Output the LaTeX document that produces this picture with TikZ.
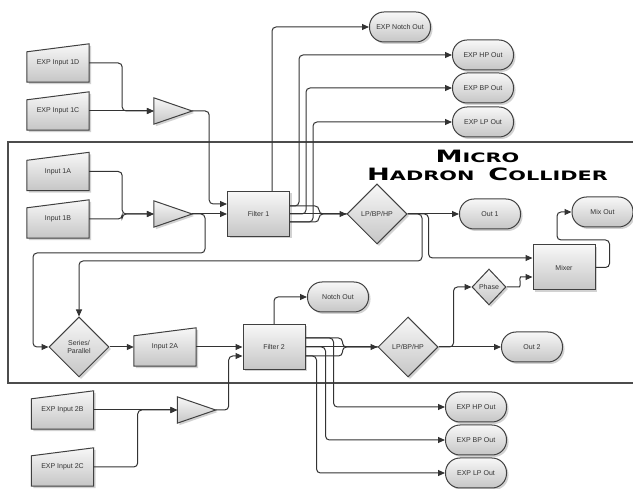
\documentclass[tikz,border=0pt]{standalone}
\usepackage{fontspec}
\setsansfont{Liberation Sans}
\newfontfamily\titlefont[FakeStretch=1.6]{DejaVu Sans}
\usetikzlibrary{arrows.meta,shapes.geometric,shadows,backgrounds}
\newcommand\tcap[1]{{\fontsize{17}{17}\selectfont #1}}
\newcommand\tsml[1]{{\fontsize{13}{13}\selectfont #1}}

\begin{document}
\begin{tikzpicture}[x=1pt,y=-1pt]
  \tikzstyle{blk}=[draw=black!75, line width=1pt, top color=gray!6, bottom color=gray!45, drop shadow={shadow xshift=2pt, shadow yshift=-2pt, fill=gray!70}]
  \tikzstyle{lbl}=[font=\sffamily\fontsize{7}{8}\selectfont, text=black!80, align=center, inner sep=0pt]
  \tikzstyle{box}=[blk, lbl, minimum width=62pt, minimum height=45pt]
  \tikzstyle{pill}=[blk, lbl, rounded corners=14.5pt, minimum width=61pt, minimum height=30pt]
  \tikzstyle{dia}=[blk, lbl, diamond, minimum width=60pt, minimum height=60pt]
  \tikzstyle{inp}=[lbl, minimum width=62pt, minimum height=38pt]
  \tikzstyle{amp}=[minimum width=38pt, minimum height=26pt, inner sep=0pt]
  \tikzstyle{wire}=[draw=black!80, line width=1pt, rounded corners=4pt]
  \tikzstyle{arr}=[wire, -{Triangle[length=7pt,width=6pt]}]
  \tikzstyle{title}=[font=\titlefont\bfseries, inner sep=0pt]

  \useasboundingbox (0,0) rectangle (633,489);

  % moldura
  \draw[black!70, line width=1.2pt] (633,142) -- (8,142) -- (8,383) -- (633,383);

  % titulo
  \node[title] (title1) at (477.5,156) {\tcap{M}\tsml{ICRO}};
  \node[title] (title2) at (487.5,174.5) {\tcap{H}\tsml{ADRON}\hspace{14pt}\tcap{C}\tsml{OLLIDER}};

  % entradas
  \node[inp] (in1d) at (58,63) {EXP Input 1D};
  \node[inp] (in1c) at (58,111) {EXP Input 1C};
  \node[inp] (in1a) at (58,171.5) {Input 1A};
  \node[inp] (in1b) at (58,219) {Input 1B};
  \node[inp] (in2a) at (165,347) {Input 2A};
  \node[inp] (in2b) at (62.5,410) {EXP Input 2B};
  \node[inp] (in2c) at (62.5,467) {EXP Input 2C};

  % amplificadores
  \node[amp] (ampx1) at (173,111) {};
  \node[amp] (amp1) at (173,214) {};
  \node[amp] (ampx2) at (196.5,410) {};

  % blocos
  \node[box] (filt1) at (258.5,214) {Filter 1};
  \node[box] (filt2) at (274,347) {Filter 2};
  \node[box] (mixer) at (564,267.5) {Mixer};
  \node[dia] (sel1) at (377,214) {LP/BP/HP};
  \node[dia] (sel2) at (408,347) {LP/BP/HP};
  \node[dia] (serpar) at (79,347) {Series/\\Parallel};
  \node[dia, minimum width=34pt, minimum height=36pt] (phase) at (489,287) {Phase};

  % saidas
  \node[pill] (xnotch) at (400,27) {EXP Notch Out};
  \node[pill] (xhp1) at (483,55) {EXP HP Out};
  \node[pill] (xbp1) at (483,88) {EXP BP Out};
  \node[pill] (xlp1) at (483,122) {EXP LP Out};
  \node[pill] (out1) at (490,214) {Out 1};
  \node[pill] (mixout) at (602.5,212) {Mix Out};
  \node[pill] (notch) at (338,297) {Notch Out};
  \node[pill] (out2) at (532,347) {Out 2};
  \node[pill] (xhp2) at (476,407) {EXP HP Out};
  \node[pill] (xbp2) at (476,440) {EXP BP Out};
  \node[pill] (xlp2) at (476,473) {EXP LP Out};

  % formas de entrada e triangulos
  \begin{scope}[on background layer]
    \foreach \n in {in1d,in1c,in1a,in1b,in2a,in2b,in2c}
      \path[blk] (\n.south west) -- ([yshift=-8pt]\n.north west) -- (\n.north east) -- (\n.south east) -- cycle;
    \foreach \n in {ampx1,amp1,ampx2}
      \path[blk] (\n.north west) -- (\n.east) -- (\n.south west) -- cycle;
  \end{scope}

  % ligacoes do filtro 1
  \draw[arr] (in1d.east) -- ++(33,0) |- (ampx1.west);
  \draw[arr] (in1c.east) -- (ampx1.west);
  \draw[arr] (in1a.east) -- ++(33,0) |- (amp1.west);
  \draw[arr] (in1b.east) -- ++(33,0) |- (amp1.west);
  \draw[arr] (ampx1.east) -- ++(17,0) |- ([yshift=10pt]filt1.west);
  \draw[arr] (amp1.east) -- (filt1.west);
  \draw[arr] (amp1.east) -| (205,253) -- (33,253) |- (serpar.west);
  \draw[arr] ([xshift=13.5pt]filt1.north) |- (xnotch.west);
  \draw[arr] ([yshift=8pt]filt1.east) -- ++(9,0) |- (xhp1.west);
  \draw[arr] (filt1.east) -- ++(16,0) |- (xbp1.west);
  \draw[arr] ([yshift=-8pt]filt1.east) -- ++(23,0) |- (xlp1.west);
  \draw[wire] ([yshift=8pt]filt1.east) -- ++(29,0) |- (sel1.west);
  \draw[wire] ([yshift=-8pt]filt1.east) -- ++(29,0) |- (sel1.west);
  \draw[arr] (filt1.east) -- (sel1.west);
  \draw[arr] (sel1.east) -- (out1.west);
  \draw[arr] (sel1.east) -| (422,261) -| (serpar.north);
  \draw[arr] (sel1.east) -- ++(21,0) |- ([yshift=9.5pt]mixer.west);
  \draw[arr] (mixer.east) -- ++(14,0) |- (557,240) |- (mixout.west);

  % ligacoes do filtro 2
  \draw[arr] (serpar.east) -- (in2a.west);
  \draw[arr] (in2a.east) -- (filt2.west);
  \draw[arr] (in2b.east) -- (ampx2.west);
  \draw[arr] (in2c.east) -- ++(44,0) |- (ampx2.west);
  \draw[arr] (ampx2.east) -- ++(13,0) |- ([yshift=-9pt]filt2.west);
  \draw[arr] (filt2.north) |- (notch.west);
  \draw[arr] ([yshift=9pt]filt2.east) -- ++(28,0) |- (xhp2.west);
  \draw[arr] (filt2.east) -- ++(20,0) |- (xbp2.west);
  \draw[arr] ([yshift=-9pt]filt2.east) -- ++(11,0) |- (xlp2.west);
  \draw[wire] ([yshift=9pt]filt2.east) -- ++(37,0) |- (sel2.west);
  \draw[wire] ([yshift=-9pt]filt2.east) -- ++(37,0) |- (sel2.west);
  \draw[arr] (filt2.east) -- (sel2.west);
  \draw[arr] (sel2.east) -- (out2.west);
  \draw[arr] (sel2.east) -- ++(15,0) |- (phase.west);
  \draw[arr] (phase.east) -- ++(9,0) to[out=0,in=180] ++(9,-10) -- ([yshift=-9.5pt]mixer.west);
\end{tikzpicture}
\end{document}
